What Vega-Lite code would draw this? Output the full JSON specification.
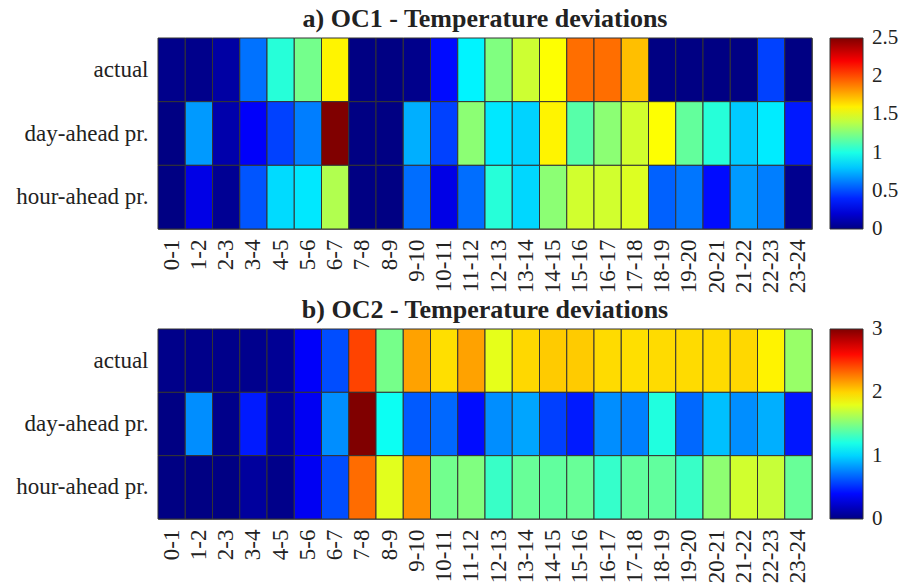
{
  "$schema": "https://vega.github.io/schema/vega-lite/v6.json",
  "background": "white",
  "padding": {"left": 15, "top": 5, "right": 5, "bottom": 2},
  "spacing": 2,
  "config": {
    "font": "Liberation Serif",
    "view": {"stroke": "#777", "strokeWidth": 1},
    "axis": {"labelFont": "Liberation Serif", "labelColor": "#222", "domain": false, "ticks": false, "grid": false, "title": null},
    "title": {"font": "Liberation Serif", "fontSize": 26, "fontWeight": "bold", "color": "#222", "offset": 6, "anchor": "middle"},
    "legend": {"labelFont": "Liberation Serif", "labelColor": "#222"}
  },
  "datasets": {
    "oc1": [
      {"row": "actual", "hour": "0-1", "value": 0.02}, {"row": "actual", "hour": "1-2", "value": 0.02}, {"row": "actual", "hour": "2-3", "value": 0.08}, {"row": "actual", "hour": "3-4", "value": 0.59}, {"row": "actual", "hour": "4-5", "value": 1.03}, {"row": "actual", "hour": "5-6", "value": 1.22}, {"row": "actual", "hour": "6-7", "value": 1.59}, {"row": "actual", "hour": "7-8", "value": 0.0}, {"row": "actual", "hour": "8-9", "value": 0.0}, {"row": "actual", "hour": "9-10", "value": 0.02}, {"row": "actual", "hour": "10-11", "value": 0.34}, {"row": "actual", "hour": "11-12", "value": 0.91}, {"row": "actual", "hour": "12-13", "value": 1.25}, {"row": "actual", "hour": "13-14", "value": 1.44}, {"row": "actual", "hour": "14-15", "value": 1.56}, {"row": "actual", "hour": "15-16", "value": 1.92}, {"row": "actual", "hour": "16-17", "value": 1.92}, {"row": "actual", "hour": "17-18", "value": 1.72}, {"row": "actual", "hour": "18-19", "value": 0.0}, {"row": "actual", "hour": "19-20", "value": 0.0}, {"row": "actual", "hour": "20-21", "value": 0.0}, {"row": "actual", "hour": "21-22", "value": 0.0}, {"row": "actual", "hour": "22-23", "value": 0.47}, {"row": "actual", "hour": "23-24", "value": 0.0},
      {"row": "day-ahead pr.", "hour": "0-1", "value": 0.0}, {"row": "day-ahead pr.", "hour": "1-2", "value": 0.69}, {"row": "day-ahead pr.", "hour": "2-3", "value": 0.1}, {"row": "day-ahead pr.", "hour": "3-4", "value": 0.3}, {"row": "day-ahead pr.", "hour": "4-5", "value": 0.47}, {"row": "day-ahead pr.", "hour": "5-6", "value": 0.62}, {"row": "day-ahead pr.", "hour": "6-7", "value": 2.5}, {"row": "day-ahead pr.", "hour": "7-8", "value": 0.0}, {"row": "day-ahead pr.", "hour": "8-9", "value": 0.0}, {"row": "day-ahead pr.", "hour": "9-10", "value": 0.74}, {"row": "day-ahead pr.", "hour": "10-11", "value": 0.47}, {"row": "day-ahead pr.", "hour": "11-12", "value": 1.28}, {"row": "day-ahead pr.", "hour": "12-13", "value": 0.88}, {"row": "day-ahead pr.", "hour": "13-14", "value": 0.83}, {"row": "day-ahead pr.", "hour": "14-15", "value": 1.59}, {"row": "day-ahead pr.", "hour": "15-16", "value": 1.15}, {"row": "day-ahead pr.", "hour": "16-17", "value": 1.28}, {"row": "day-ahead pr.", "hour": "17-18", "value": 1.45}, {"row": "day-ahead pr.", "hour": "18-19", "value": 1.56}, {"row": "day-ahead pr.", "hour": "19-20", "value": 1.18}, {"row": "day-ahead pr.", "hour": "20-21", "value": 1.03}, {"row": "day-ahead pr.", "hour": "21-22", "value": 0.81}, {"row": "day-ahead pr.", "hour": "22-23", "value": 0.89}, {"row": "day-ahead pr.", "hour": "23-24", "value": 0.37},
      {"row": "hour-ahead pr.", "hour": "0-1", "value": 0.0}, {"row": "hour-ahead pr.", "hour": "1-2", "value": 0.25}, {"row": "hour-ahead pr.", "hour": "2-3", "value": 0.04}, {"row": "hour-ahead pr.", "hour": "3-4", "value": 0.52}, {"row": "hour-ahead pr.", "hour": "4-5", "value": 0.85}, {"row": "hour-ahead pr.", "hour": "5-6", "value": 0.88}, {"row": "hour-ahead pr.", "hour": "6-7", "value": 1.37}, {"row": "hour-ahead pr.", "hour": "7-8", "value": 0.0}, {"row": "hour-ahead pr.", "hour": "8-9", "value": 0.0}, {"row": "hour-ahead pr.", "hour": "9-10", "value": 0.58}, {"row": "hour-ahead pr.", "hour": "10-11", "value": 0.25}, {"row": "hour-ahead pr.", "hour": "11-12", "value": 0.58}, {"row": "hour-ahead pr.", "hour": "12-13", "value": 1.03}, {"row": "hour-ahead pr.", "hour": "13-14", "value": 0.84}, {"row": "hour-ahead pr.", "hour": "14-15", "value": 1.28}, {"row": "hour-ahead pr.", "hour": "15-16", "value": 1.45}, {"row": "hour-ahead pr.", "hour": "16-17", "value": 1.45}, {"row": "hour-ahead pr.", "hour": "17-18", "value": 1.48}, {"row": "hour-ahead pr.", "hour": "18-19", "value": 0.55}, {"row": "hour-ahead pr.", "hour": "19-20", "value": 0.6}, {"row": "hour-ahead pr.", "hour": "20-21", "value": 0.34}, {"row": "hour-ahead pr.", "hour": "21-22", "value": 0.69}, {"row": "hour-ahead pr.", "hour": "22-23", "value": 0.62}, {"row": "hour-ahead pr.", "hour": "23-24", "value": 0.03}
    ],
    "oc2": [
      {"row": "actual", "hour": "0-1", "value": 0.02}, {"row": "actual", "hour": "1-2", "value": 0.02}, {"row": "actual", "hour": "2-3", "value": 0.02}, {"row": "actual", "hour": "3-4", "value": 0.03}, {"row": "actual", "hour": "4-5", "value": 0.05}, {"row": "actual", "hour": "5-6", "value": 0.36}, {"row": "actual", "hour": "6-7", "value": 0.6}, {"row": "actual", "hour": "7-8", "value": 2.43}, {"row": "actual", "hour": "8-9", "value": 1.47}, {"row": "actual", "hour": "9-10", "value": 2.15}, {"row": "actual", "hour": "10-11", "value": 1.97}, {"row": "actual", "hour": "11-12", "value": 2.15}, {"row": "actual", "hour": "12-13", "value": 1.8}, {"row": "actual", "hour": "13-14", "value": 1.99}, {"row": "actual", "hour": "14-15", "value": 2.03}, {"row": "actual", "hour": "15-16", "value": 2.03}, {"row": "actual", "hour": "16-17", "value": 1.98}, {"row": "actual", "hour": "17-18", "value": 1.97}, {"row": "actual", "hour": "18-19", "value": 1.98}, {"row": "actual", "hour": "19-20", "value": 1.98}, {"row": "actual", "hour": "20-21", "value": 1.98}, {"row": "actual", "hour": "21-22", "value": 1.99}, {"row": "actual", "hour": "22-23", "value": 1.91}, {"row": "actual", "hour": "23-24", "value": 1.57},
      {"row": "day-ahead pr.", "hour": "0-1", "value": 0.0}, {"row": "day-ahead pr.", "hour": "1-2", "value": 0.79}, {"row": "day-ahead pr.", "hour": "2-3", "value": 0.02}, {"row": "day-ahead pr.", "hour": "3-4", "value": 0.45}, {"row": "day-ahead pr.", "hour": "4-5", "value": 0.08}, {"row": "day-ahead pr.", "hour": "5-6", "value": 0.34}, {"row": "day-ahead pr.", "hour": "6-7", "value": 0.79}, {"row": "day-ahead pr.", "hour": "7-8", "value": 3.0}, {"row": "day-ahead pr.", "hour": "8-9", "value": 1.16}, {"row": "day-ahead pr.", "hour": "9-10", "value": 0.64}, {"row": "day-ahead pr.", "hour": "10-11", "value": 0.68}, {"row": "day-ahead pr.", "hour": "11-12", "value": 0.41}, {"row": "day-ahead pr.", "hour": "12-13", "value": 0.79}, {"row": "day-ahead pr.", "hour": "13-14", "value": 0.86}, {"row": "day-ahead pr.", "hour": "14-15", "value": 0.56}, {"row": "day-ahead pr.", "hour": "15-16", "value": 0.45}, {"row": "day-ahead pr.", "hour": "16-17", "value": 0.79}, {"row": "day-ahead pr.", "hour": "17-18", "value": 0.75}, {"row": "day-ahead pr.", "hour": "18-19", "value": 1.22}, {"row": "day-ahead pr.", "hour": "19-20", "value": 0.68}, {"row": "day-ahead pr.", "hour": "20-21", "value": 0.94}, {"row": "day-ahead pr.", "hour": "21-22", "value": 0.79}, {"row": "day-ahead pr.", "hour": "22-23", "value": 0.89}, {"row": "day-ahead pr.", "hour": "23-24", "value": 0.44},
      {"row": "hour-ahead pr.", "hour": "0-1", "value": 0.0}, {"row": "hour-ahead pr.", "hour": "1-2", "value": 0.0}, {"row": "hour-ahead pr.", "hour": "2-3", "value": 0.0}, {"row": "hour-ahead pr.", "hour": "3-4", "value": 0.08}, {"row": "hour-ahead pr.", "hour": "4-5", "value": 0.02}, {"row": "hour-ahead pr.", "hour": "5-6", "value": 0.34}, {"row": "hour-ahead pr.", "hour": "6-7", "value": 0.6}, {"row": "hour-ahead pr.", "hour": "7-8", "value": 2.31}, {"row": "hour-ahead pr.", "hour": "8-9", "value": 1.79}, {"row": "hour-ahead pr.", "hour": "9-10", "value": 2.21}, {"row": "hour-ahead pr.", "hour": "10-11", "value": 1.46}, {"row": "hour-ahead pr.", "hour": "11-12", "value": 1.5}, {"row": "hour-ahead pr.", "hour": "12-13", "value": 1.29}, {"row": "hour-ahead pr.", "hour": "13-14", "value": 1.43}, {"row": "hour-ahead pr.", "hour": "14-15", "value": 1.41}, {"row": "hour-ahead pr.", "hour": "15-16", "value": 1.43}, {"row": "hour-ahead pr.", "hour": "16-17", "value": 1.28}, {"row": "hour-ahead pr.", "hour": "17-18", "value": 1.41}, {"row": "hour-ahead pr.", "hour": "18-19", "value": 1.41}, {"row": "hour-ahead pr.", "hour": "19-20", "value": 1.29}, {"row": "hour-ahead pr.", "hour": "20-21", "value": 1.54}, {"row": "hour-ahead pr.", "hour": "21-22", "value": 1.74}, {"row": "hour-ahead pr.", "hour": "22-23", "value": 1.71}, {"row": "hour-ahead pr.", "hour": "23-24", "value": 1.43}
    ]
  },
  "vconcat": [
    {
      "title": "a) OC1 - Temperature deviations",
      "data": {"name": "oc1"},
      "width": 654,
      "height": 191,
      "mark": {"type": "rect", "stroke": "#333", "strokeWidth": 1},
      "encoding": {
        "x": {"field": "hour", "type": "ordinal", "sort": ["0-1","1-2","2-3","3-4","4-5","5-6","6-7","7-8","8-9","9-10","10-11","11-12","12-13","13-14","14-15","15-16","16-17","17-18","18-19","19-20","20-21","21-22","22-23","23-24"], "scale": {"paddingInner": 0, "paddingOuter": 0}, "axis": {"labelAngle": -90, "labelFontSize": 23, "labelPadding": 10, "labelBaseline": "middle"}},
        "y": {"field": "row", "type": "ordinal", "sort": ["actual", "day-ahead pr.", "hour-ahead pr."], "scale": {"paddingInner": 0, "paddingOuter": 0}, "axis": {"labelFontSize": 23, "labelPadding": 10}},
        "color": {"field": "value", "type": "quantitative",
          "scale": {"domain": [0, 0.3125, 0.625, 0.9375, 1.25, 1.5625, 1.875, 2.1875, 2.5], "range": ["#000083", "#0000ff", "#0080ff", "#00ffff", "#80ff80", "#ffff00", "#ff8000", "#ff0000", "#800000"], "interpolate": "rgb", "clamp": true},
          "legend": {"title": null, "values": [0, 0.5, 1, 1.5, 2, 2.5], "labelExpr": "'' + datum.value", "gradientLength": 191, "gradientThickness": 33, "gradientStrokeColor": "#333", "gradientStrokeWidth": 1, "labelFontSize": 21, "labelOffset": 9, "offset": 18, "padding": 0,
            "encode": {"labels": {"update": {"baseline": {"value": "middle"}}}}}}
      }
    },
    {
      "title": "b) OC2 - Temperature deviations",
      "data": {"name": "oc2"},
      "width": 654,
      "height": 190,
      "mark": {"type": "rect", "stroke": "#333", "strokeWidth": 1},
      "encoding": {
        "x": {"field": "hour", "type": "ordinal", "sort": ["0-1","1-2","2-3","3-4","4-5","5-6","6-7","7-8","8-9","9-10","10-11","11-12","12-13","13-14","14-15","15-16","16-17","17-18","18-19","19-20","20-21","21-22","22-23","23-24"], "scale": {"paddingInner": 0, "paddingOuter": 0}, "axis": {"labelAngle": -90, "labelFontSize": 23, "labelPadding": 10, "labelBaseline": "middle"}},
        "y": {"field": "row", "type": "ordinal", "sort": ["actual", "day-ahead pr.", "hour-ahead pr."], "scale": {"paddingInner": 0, "paddingOuter": 0}, "axis": {"labelFontSize": 23, "labelPadding": 10}},
        "color": {"field": "value", "type": "quantitative",
          "scale": {"domain": [0, 0.375, 0.75, 1.125, 1.5, 1.875, 2.25, 2.625, 3], "range": ["#000083", "#0000ff", "#0080ff", "#00ffff", "#80ff80", "#ffff00", "#ff8000", "#ff0000", "#800000"], "interpolate": "rgb", "clamp": true},
          "legend": {"title": null, "values": [0, 1, 2, 3], "labelExpr": "'' + datum.value", "gradientLength": 190, "gradientThickness": 33, "gradientStrokeColor": "#333", "gradientStrokeWidth": 1, "labelFontSize": 21, "labelOffset": 9, "offset": 18, "padding": 0,
            "encode": {"labels": {"update": {"baseline": {"value": "middle"}}}}}}
      }
    }
  ],
  "resolve": {"scale": {"color": "independent"}, "legend": {"color": "independent"}}
}
